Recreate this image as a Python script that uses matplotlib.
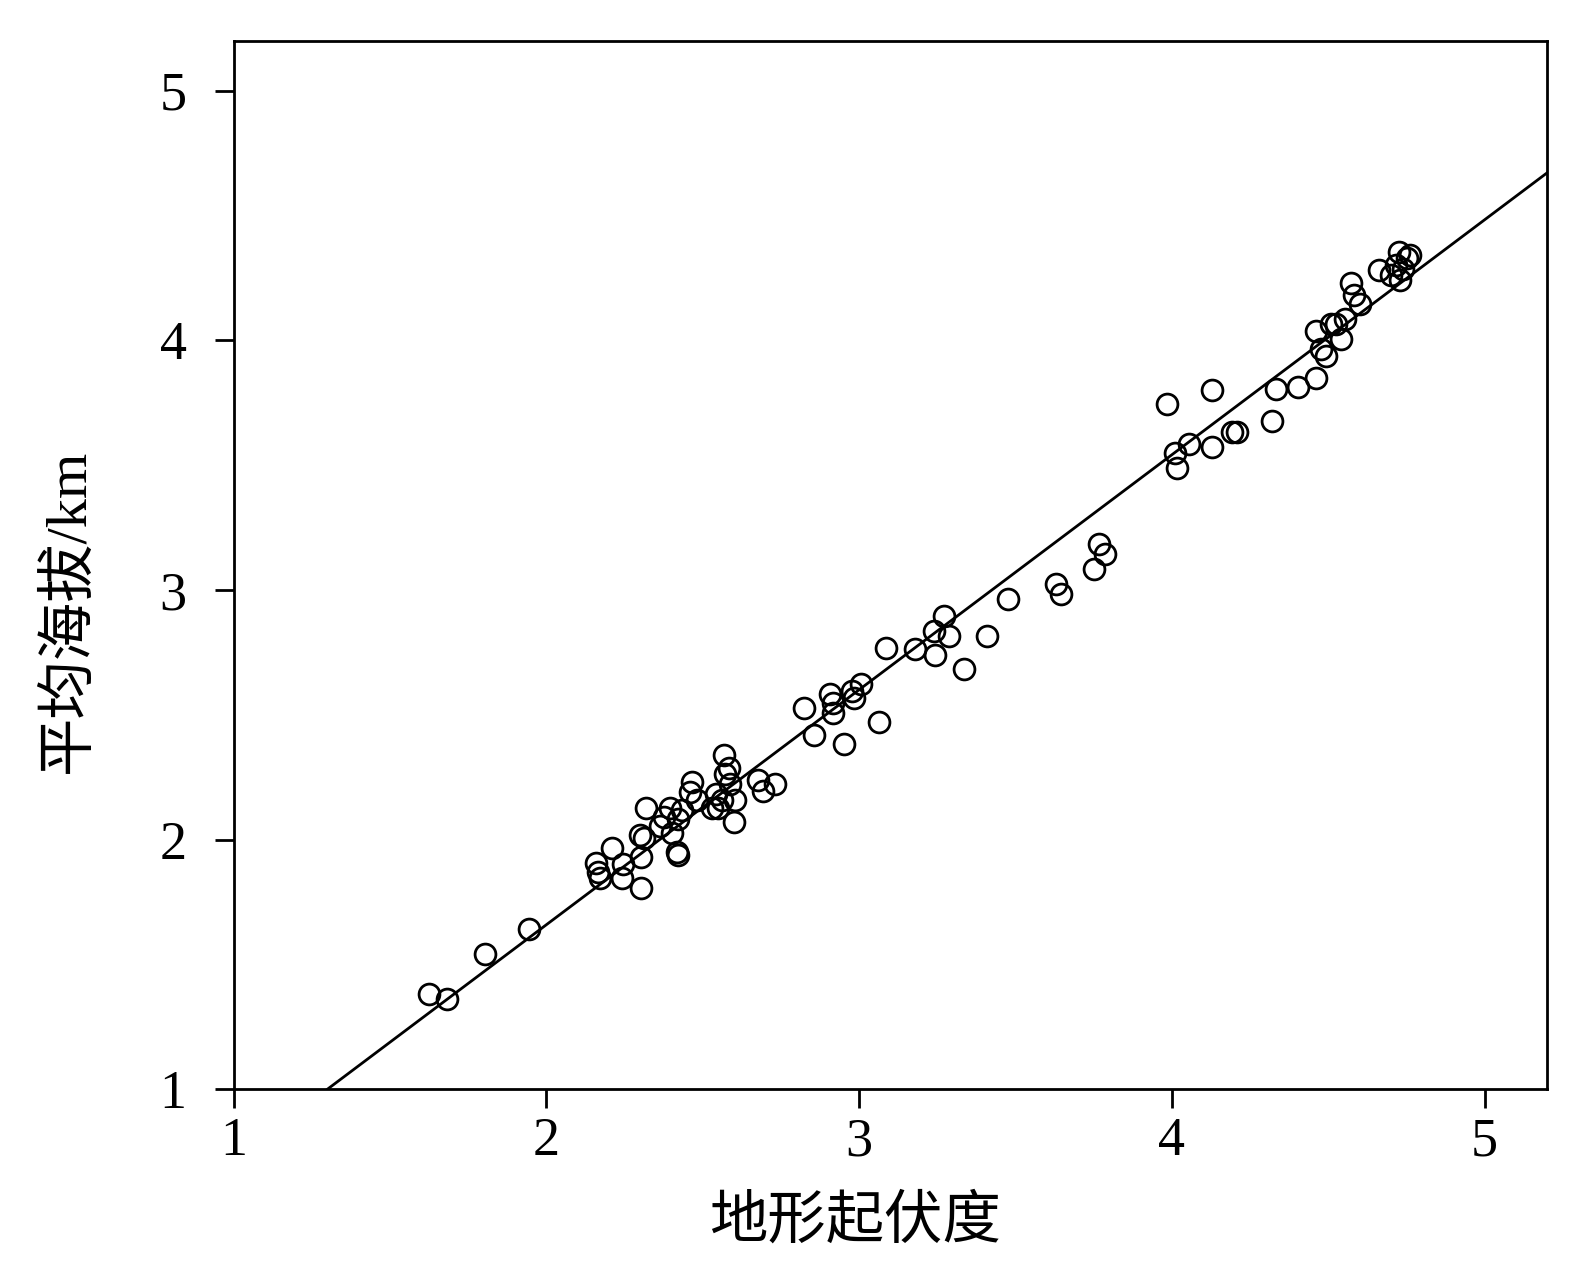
import numpy as np
import matplotlib.pyplot as plt

# relief vs mean elevation
relief = [1.624, 1.683, 1.803, 1.943,
          2.158, 2.164, 2.171, 2.210, 2.245, 2.242, 2.301, 2.301, 2.298, 2.311,
          2.320, 2.363, 2.376, 2.395, 2.402, 2.418, 2.421, 2.421, 2.434, 2.460,
          2.467, 2.483, 2.528, 2.541, 2.548, 2.561, 2.567, 2.571, 2.584, 2.587,
          2.603, 2.600, 2.675, 2.694, 2.730,
          2.824, 2.857, 2.906, 2.915, 2.915, 2.951, 2.977, 2.984, 3.007, 3.062,
          3.085, 3.179, 3.241, 3.273, 3.286, 3.244, 3.335, 3.410, 3.475,
          3.631, 3.647, 3.751, 3.767, 3.787,
          3.985, 4.011, 4.015, 4.054, 4.128, 4.128, 4.193, 4.210, 4.320, 4.333,
          4.402, 4.460, 4.460, 4.476, 4.493, 4.509, 4.525, 4.541, 4.554, 4.574,
          4.584, 4.603, 4.662, 4.701, 4.717, 4.727, 4.730, 4.740, 4.753, 4.762]
elev = [1.382, 1.362, 1.541, 1.642,
        1.906, 1.870, 1.846, 1.967, 1.902, 1.846, 1.805, 1.931, 2.020, 2.008,
        2.126, 2.053, 2.089, 2.126, 2.028, 1.951, 1.939, 2.081, 2.118, 2.191,
        2.232, 2.159, 2.126, 2.183, 2.126, 2.159, 2.337, 2.264, 2.285, 2.224,
        2.159, 2.069, 2.240, 2.195, 2.224,
        2.528, 2.419, 2.581, 2.545, 2.508, 2.382, 2.593, 2.565, 2.622, 2.472,
        2.768, 2.764, 2.837, 2.894, 2.817, 2.740, 2.683, 2.817, 2.963,
        3.024, 2.984, 3.085, 3.183, 3.142,
        3.744, 3.549, 3.488, 3.585, 3.801, 3.573, 3.634, 3.634, 3.675, 3.805,
        3.813, 3.850, 4.037, 3.963, 3.935, 4.065, 4.065, 4.004, 4.085, 4.228,
        4.179, 4.146, 4.280, 4.260, 4.301, 4.354, 4.240, 4.285, 4.329, 4.341]

# fitted line
slope = 0.941
intercept = -0.223

ticks = [1, 2, 3, 4, 5]
lims = (1, 5.2)

plt.rcParams['font.family'] = ['Liberation Serif', 'Noto Sans CJK SC']

fig = plt.figure(figsize=(15.9, 12.68), dpi=100)
ax = fig.add_axes([0.147, 0.141, 0.826, 0.827])

xl = np.array(lims)
ax.plot(xl, slope * xl + intercept, color='black', lw=2)
ax.plot(relief, elev, 'o', mfc='none', mec='black', ms=15, mew=2)

ax.set_xlim(lims)
ax.set_ylim(lims)
ax.set_xticks(ticks)
ax.set_yticks(ticks)
for s in ax.spines.values():
    s.set_linewidth(2)
ax.tick_params(length=14, width=2, labelsize=39)
ax.tick_params(axis='y', pad=20)
ax.tick_params(axis='x', pad=6)

ax.set_xlabel('地形起伏度', fontsize=42)
ax.set_ylabel('平均海拔/km', fontsize=42)
ax.xaxis.set_label_coords(0.473, -0.101)
ax.yaxis.set_label_coords(-0.105, 0.456)

fig.savefig('out.png', dpi=100)
